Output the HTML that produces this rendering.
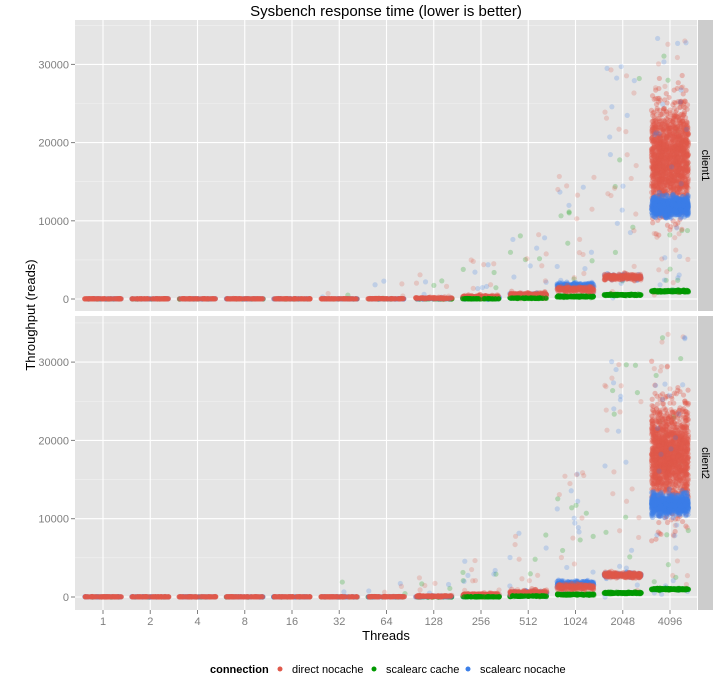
<!DOCTYPE html>
<html><head><meta charset="utf-8"><style>body{margin:0;background:#fff}svg{display:block;font-family:"Liberation Sans",sans-serif}</style></head>
<body>
<svg id="s" width="720" height="679" xmlns="http://www.w3.org/2000/svg">
<text x="386" y="16" font-size="15" text-anchor="middle">Sysbench response time (lower is better)</text>
<text transform="translate(35,315) rotate(-90)" font-size="13" text-anchor="middle">Throughput (reads)</text>
<text x="386" y="640" font-size="13" text-anchor="middle">Threads</text>
<g id="g"></g>
<g font-size="11">
<text x="210" y="673" font-weight="bold">connection</text>
<circle cx="280" cy="669" r="2.5" fill="#E0594B"/><text x="292" y="673">direct nocache</text>
<circle cx="374" cy="669" r="2.5" fill="#009900"/><text x="386" y="673">scalearc cache</text>
<circle cx="468" cy="669" r="2.5" fill="#3b7fe8"/><text x="480" y="673">scalearc nocache</text>
</g>
</svg>
<script>
var NS="http://www.w3.org/2000/svg",g=document.getElementById('g');
function el(t,a,p){var e=document.createElementNS(NS,t);for(var k in a)e.setAttribute(k,a[k]);(p||g).appendChild(e);return e;}
var seed=12345;function rnd(){seed=(seed*1103515245+12345)%2147483648;return seed/2147483648;}
function nrm(){return Math.sqrt(-2*Math.log(rnd()+1e-9))*Math.cos(6.2832*rnd());}
var cats=["1","2","4","8","16","32","64","128","256","512","1024","2048","4096"];
function cx(i){return 103+i*47.25;}
var panels=[{t:20,b:311,z:299,k:0.00782,lab:"client1"},{t:316,b:610,z:597,k:0.00783,lab:"client2"}];
var RED="#E0594B",GRN="#009900",BLU="#3b7fe8";
var red=[[20,20,60],[20,20,60],[20,20,60],[20,20,60],[20,20,60],[20,20,60],[30,30,60],[100,60,80],[280,120,100],[550,180,120],[1250,180,200],[2800,170,260],[18000,3200,1500]];
var blu=[[15,15,60],[15,15,60],[15,15,60],[15,15,60],[15,15,60],[15,15,60],[20,20,60],[60,40,60],[150,80,80],[450,150,100],[1700,180,200],[2800,150,120],[11800,600,900]];
var grn=[[0,5,10],[0,5,10],[0,5,10],[0,5,10],[0,5,10],[0,5,10],[0,5,10],[10,10,30],[40,25,80],[130,40,100],[320,50,150],[520,50,150],[1000,60,200]];
var outN=[0,0,0,0,0,1,2,3,5,7,11,14,25];
panels.forEach(function(p,pi){
  el('rect',{x:75,y:p.t,width:622,height:p.b-p.t,fill:"#E5E5E5"});
  el('rect',{x:698,y:p.t,width:15,height:p.b-p.t,fill:"#CCCCCC"});
  var t=el('text',{transform:"translate(702,"+((p.t+p.b)/2)+") rotate(90)","font-size":"11","text-anchor":"middle"});t.textContent=p.lab;
  [5000,15000,25000,35000].forEach(function(v){var y=p.z-v*p.k;if(y>p.t)el('line',{x1:75,x2:697,y1:y,y2:y,stroke:"#F2F2F2","stroke-width":0.6});});
  [0,10000,20000,30000].forEach(function(v){var y=p.z-v*p.k;el('line',{x1:75,x2:697,y1:y,y2:y,stroke:"#fff","stroke-width":1.1});
    el('line',{x1:71,x2:75,y1:y,y2:y,stroke:"#7f7f7f"});var tt=el('text',{x:69,y:y+4,"font-size":"11",fill:"#7f7f7f","text-anchor":"end"});tt.textContent=v;});
  for(var i=0;i<13;i++)el('line',{x1:cx(i),x2:cx(i),y1:p.t,y2:p.b,stroke:"#fff","stroke-width":1.1});
  function pts(spec,col,op,outScale,from,to){
    for(var i=from;i<to;i++){var s=spec[i];
      for(var j=0;j<s[2];j++){var v=s[0]+nrm()*s[1];if(v<0&&s[0]<100)v=Math.abs(v);
        el('circle',{cx:cx(i)+(rnd()-0.5)*37,cy:p.z-v*p.k,r:2.6,fill:col,"fill-opacity":op});}
      var no=Math.round(outN[i]*outScale);
      for(var j=0;j<no;j++){var top=(i==12?34000:Math.pow(2,i-6)*900+1500);var v=rnd()*top;
        el('circle',{cx:cx(i)+(rnd()-0.5)*37,cy:p.z-v*p.k,r:2.6,fill:col,"fill-opacity":0.22});}
    }
  }
  pts(grn,GRN,0.5,0.6,0,13);
  pts(blu,BLU,0.35,1,0,12);
  pts(red,RED,0.35,1.2,0,13);
  pts(blu,BLU,0.35,1,12,13);
  for(var i=0;i<10;i++){var s=red[i];for(var j=0;j<40;j++){el('circle',{cx:cx(i)+(rnd()-0.5)*37,cy:p.z-(s[0]+Math.abs(nrm())*s[1]*0.5)*p.k,r:2.6,fill:RED,"fill-opacity":0.6});}}
  for(var i=8;i<13;i++){var s=grn[i];for(var j=0;j<40;j++){el('circle',{cx:cx(i)+(rnd()-0.5)*37,cy:p.z-(s[0]+nrm()*s[1]*0.5)*p.k,r:2.6,fill:GRN,"fill-opacity":0.7});}}
});
for(var i=0;i<13;i++){el('line',{x1:cx(i),x2:cx(i),y1:610,y2:614,stroke:"#7f7f7f"});var t=el('text',{x:cx(i),y:625,"font-size":"11",fill:"#7f7f7f","text-anchor":"middle"});t.textContent=cats[i];}
</script>
</body></html>
